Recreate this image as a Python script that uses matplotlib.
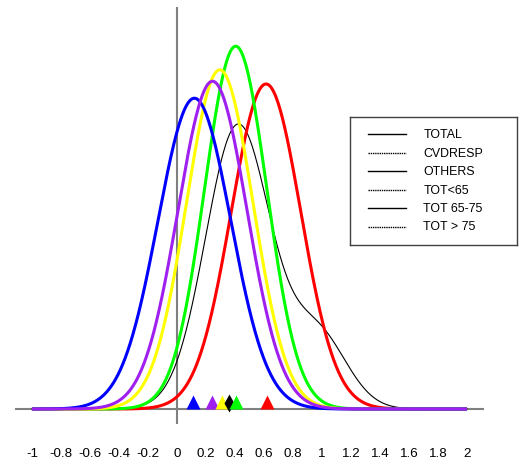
import numpy as np
import matplotlib
matplotlib.use("Agg")
import matplotlib.pyplot as plt
import matplotlib.transforms as mtransforms

plt.rcParams['font.family'] = ['Liberation Sans', 'DejaVu Sans']

# ---- data ----
# normal density curves: colour, mean, sd
curve_colors = ['red', '#00ff00', '#ffff00', '#0000ff', '#a020f0']
curve_means = [0.614, 0.405, 0.295, 0.12, 0.245]
curve_sds = [0.240, 0.215, 0.230, 0.251, 0.238]

# black (TOTAL) curve: mixture of two normal components
total_weights = [0.81, 0.19]
total_means = [0.42, 0.97]
total_sds = [0.223, 0.20]

# marker positions on the baseline
marker_colors = ['#0000ff', '#a020f0', '#ffff00', 'black', '#00ff00', 'red']
marker_x = [0.113, 0.239, 0.312, 0.356, 0.405, 0.618]
marker_shapes = ['^', '^', '^', 'd', '^', '^']

tick_values = [-1, -0.8, -0.6, -0.4, -0.2, 0, 0.2, 0.4, 0.6, 0.8, 1, 1.2, 1.4, 1.6, 1.8, 2]
tick_labels = ['-1', '-0.8', '-0.6', '-0.4', '-0.2', '0', '0.2', '0.4', '0.6', '0.8',
               '1', '1.2', '1.4', '1.6', '1.8', '2']

legend_labels = ['TOTAL', 'CVDRESP', 'OTHERS', 'TOT<65', 'TOT 65-75', 'TOT > 75']
legend_styles = ['-', ':', '-', ':', '-', ':']

x_range = (-1.0, 2.0)


def npdf(x, m, s):
    return np.exp(-0.5 * ((x - m) / s) ** 2) / (s * np.sqrt(2 * np.pi))


W, H = 522, 464
fig = plt.figure(figsize=(W / 100, H / 100), dpi=100)
ax = fig.add_axes([15 / W, (H - 425) / H, 469 / W, 417 / H])
ax.set_xlim(-1.117, 2.117)
ax.set_ylim(-0.0767, 2.056)
for sp in ax.spines.values():
    sp.set_visible(False)
ax.set_yticks([])
ax.set_xticks(tick_values)
ax.set_xticklabels(tick_labels, fontsize=9.6)
ax.tick_params(axis='x', length=0, pad=16.5)

# axes lines
ax.axhline(0, color='#808080', lw=1.5, zorder=1)
ax.axvline(0, color='#808080', lw=1.5, zorder=1)

x = np.linspace(x_range[0], x_range[1], 1200)
ytot = sum(w * npdf(x, m, s) for w, m, s in zip(total_weights, total_means, total_sds))
ax.plot(x, ytot, color='black', lw=0.8, zorder=3)
for c, m, s in zip(curve_colors, curve_means, curve_sds):
    ax.plot(x, npdf(x, m, s), color=c, lw=2.2, zorder=3, solid_capstyle='butt')

# markers sitting on the baseline
for c, mx, mk in zip(marker_colors, marker_x, marker_shapes):
    ms = 10 if mk == '^' else 9
    tr = mtransforms.offset_copy(ax.transData, fig=fig, x=0, y=ms / 2, units='points')
    ax.plot([mx], [0], marker=mk, color=c, ms=ms, mec='none', transform=tr,
            zorder=4, clip_on=False)

# legend box (manual)
lax = fig.add_axes([350 / W, (H - 246) / H, 167 / W, 128 / H])
lax.set_xlim(350, 517)
lax.set_ylim(246, 118)
lax.set_xticks([])
lax.set_yticks([])
for sp in lax.spines.values():
    sp.set_linewidth(1.0)
    sp.set_color('#404040')
leg_y0, leg_dy = 135, 18.5
for i, (lab, ls) in enumerate(zip(legend_labels, legend_styles)):
    yy = leg_y0 + i * leg_dy
    lax.plot([368, 406], [yy, yy], color='black', lw=1.0,
             ls='-' if ls == '-' else (0, (1, 0.6)))
    lax.text(423.5, yy, lab, fontsize=8.9, va='center', ha='left')

fig.savefig('out.png', dpi=100)
